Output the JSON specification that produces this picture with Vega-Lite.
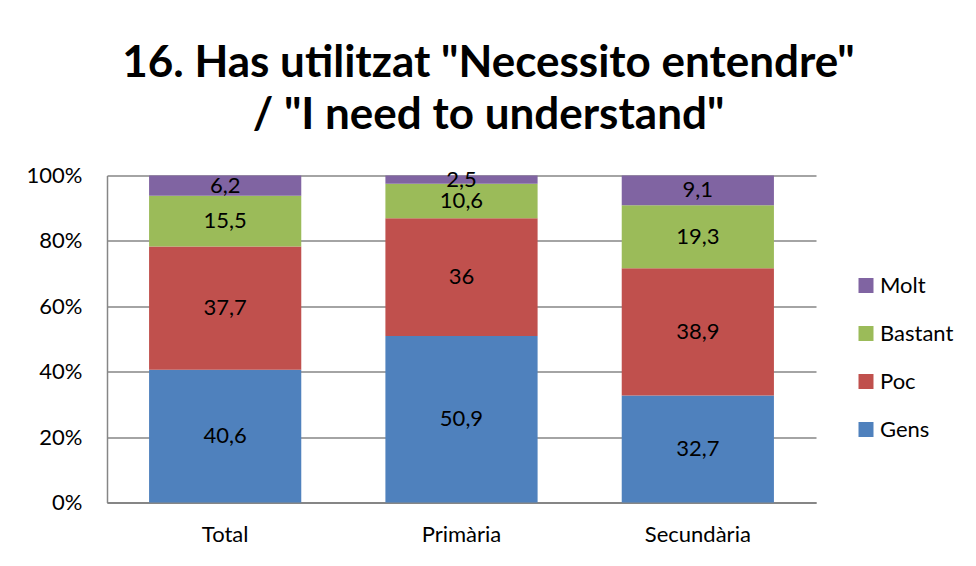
{
  "$schema": "https://vega.github.io/schema/vega-lite/v6.json",
  "width": 709,
  "height": 327,
  "autosize": "none",
  "padding": {"left": 107, "top": 175.5, "right": 160, "bottom": 63.5},
  "background": "white",
  "config": {
    "font": "Lato",
    "view": {"stroke": null},
    "locale": {"number": {"decimal": ",", "thousands": ".", "grouping": [3], "currency": ["", " €"]}}
  },
  "title": {
    "text": ["16. Has utilitzat \"Necessito entendre\"", "/ \"I need to understand\""],
    "font": "Lato",
    "fontSize": 44,
    "fontWeight": "bold",
    "color": "black",
    "anchor": "middle",
    "frame": "group",
    "dx": 27,
    "offset": 27,
    "lineHeight": 52
  },
  "data": {
    "values": [
      {"Category": "Total", "Level": "Gens", "Value": 40.6},
      {"Category": "Total", "Level": "Poc", "Value": 37.7},
      {"Category": "Total", "Level": "Bastant", "Value": 15.5},
      {"Category": "Total", "Level": "Molt", "Value": 6.2},
      {"Category": "Primària", "Level": "Gens", "Value": 50.9},
      {"Category": "Primària", "Level": "Poc", "Value": 36},
      {"Category": "Primària", "Level": "Bastant", "Value": 10.6},
      {"Category": "Primària", "Level": "Molt", "Value": 2.5},
      {"Category": "Secundària", "Level": "Gens", "Value": 32.7},
      {"Category": "Secundària", "Level": "Poc", "Value": 38.9},
      {"Category": "Secundària", "Level": "Bastant", "Value": 19.3},
      {"Category": "Secundària", "Level": "Molt", "Value": 9.1}
    ]
  },
  "transform": [
    {"calculate": "indexof(['Gens','Poc','Bastant','Molt'], datum.Level)", "as": "ord"},
    {"stack": "Value", "groupby": ["Category"], "sort": [{"field": "ord", "order": "ascending"}], "offset": "normalize", "as": ["y0", "y1"]},
    {"calculate": "(datum.y0 + datum.y1) / 2", "as": "ymid"}
  ],
  "encoding": {
    "x": {
      "field": "Category",
      "type": "nominal",
      "sort": ["Total", "Primària", "Secundària"],
      "scale": {"paddingInner": 0.356, "paddingOuter": 0.178},
      "axis": {
        "title": null,
        "labelAngle": 0,
        "labelFontSize": 22,
        "labelColor": "black",
        "labelPadding": 22,
        "ticks": false,
        "domainColor": "#868686",
        "domainWidth": 2.2
      }
    }
  },
  "layer": [
    {
      "mark": {"type": "bar"},
      "encoding": {
        "y": {
          "field": "y0",
          "type": "quantitative",
          "scale": {"domain": [0, 1]},
          "axis": {
            "title": null,
            "format": ".0%",
            "values": [0, 0.2, 0.4, 0.6, 0.8, 1],
            "labelFontSize": 22,
            "labelColor": "black",
            "labelPadding": 25,
            "ticks": false,
            "grid": true,
            "gridColor": "#868686",
            "gridWidth": 1.4,
            "domainColor": "#868686",
            "domainWidth": 1.5
          }
        },
        "y2": {"field": "y1"},
        "color": {
          "field": "Level",
          "type": "nominal",
          "scale": {
            "domain": ["Molt", "Bastant", "Poc", "Gens"],
            "range": ["#8064A2", "#9BBB59", "#C0504D", "#4F81BD"]
          },
          "legend": {
            "title": null,
            "orient": "none",
            "legendX": 748,
            "legendY": 99,
            "symbolType": "square",
            "symbolSize": 225,
            "symbolStrokeWidth": 0,
            "labelFontSize": 22,
            "labelColor": "black",
            "labelOffset": 3,
            "rowPadding": 26
          }
        }
      }
    },
    {
      "mark": {"type": "text", "fontSize": 22, "color": "black", "baseline": "middle"},
      "encoding": {
        "y": {"field": "ymid", "type": "quantitative"},
        "text": {"field": "Value", "type": "quantitative", "format": ".1~f"}
      }
    }
  ]
}
